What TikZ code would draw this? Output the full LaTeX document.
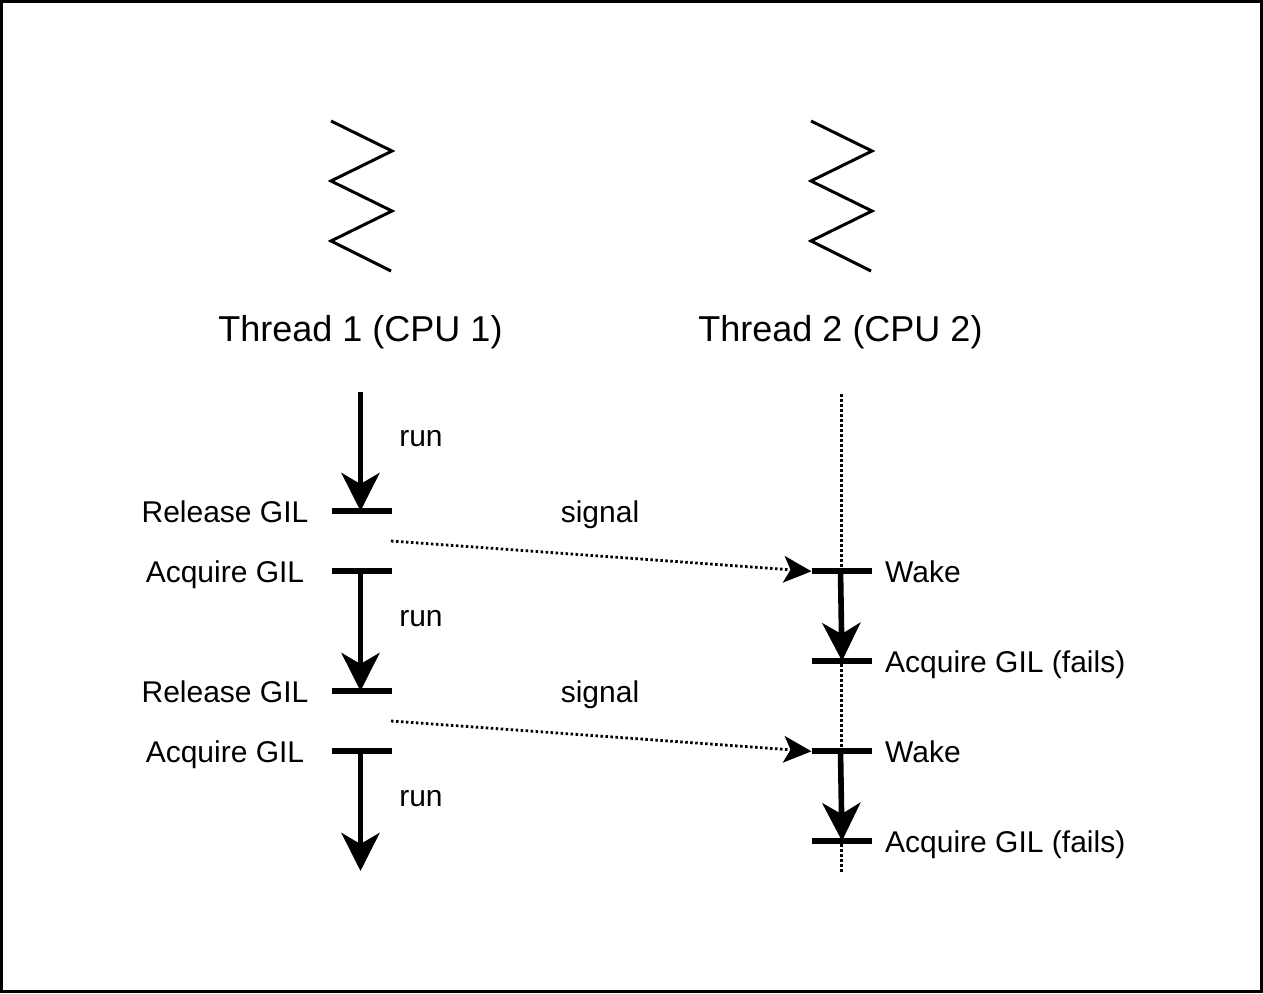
\documentclass[tikz,border=0pt]{standalone}
\usepackage{fontspec}
\setmainfont{Liberation Sans}
\usetikzlibrary{arrows.meta}
\tikzset{
  lab/.style={inner sep=0pt,anchor=base,font=\fontsize{30}{36}\selectfont},
  labw/.style={inner sep=0pt,anchor=base west,font=\fontsize{30}{36}\selectfont},
  head/.style={inner sep=0pt,anchor=base,font=\fontsize{36}{42}\selectfont},
  runarrow/.style={line width=5.6pt,-{Stealth[length=38pt,width=38pt,inset=11pt]}},
  bar/.style={line width=6pt},
  signalarrow/.style={line width=2.8pt,dash pattern=on 2.5pt off 2.5pt,-{Stealth[length=28pt,width=27pt,inset=7pt,line width=0pt]}},
  zig/.style={line width=3pt,line join=miter},
  vline/.style={line width=2.6pt,dash pattern=on 2.5pt off 2.5pt}
}
\begin{document}
\begin{tikzpicture}[x=1pt,y=-1pt]
\useasboundingbox (0,0) rectangle (1263,993);
\draw[line width=3pt] (1.5,1.5) rectangle (1261.5,991.5);
% zigzags
\draw[zig] (331,121)--(392,151)--(331,181)--(392,211)--(331,241)--(391,271);
\draw[zig] (811,121)--(872,151)--(811,181)--(872,211)--(811,241)--(871,271);
\node[head] (t1) at (360.5,341) {Thread 1 (CPU 1)};
\node[head] (t2) at (840.5,341) {Thread 2 (CPU 2)};
% coordinates
\coordinate (a0) at (360.5,392);
\coordinate (r1L) at (331.5,511.3); \coordinate (r1R) at (391.5,511.3); \coordinate (r1M) at (360.5,511);
\coordinate (a1L) at (331.5,571.3); \coordinate (a1R) at (391.5,571.3); \coordinate (a1M) at (360.5,571);
\coordinate (r2L) at (331.5,691.3); \coordinate (r2R) at (391.5,691.3); \coordinate (r2M) at (360.5,691);
\coordinate (a2L) at (331.5,751.3); \coordinate (a2R) at (391.5,751.3); \coordinate (a2M) at (360.5,751);
\coordinate (e1) at (360.5,871);
\coordinate (s1) at (391,541); \coordinate (s2) at (391,721);
\coordinate (v0) at (841.5,394); \coordinate (v1) at (841.5,872);
\coordinate (w1L) at (811.5,571.3); \coordinate (w1R) at (871.5,571.3); \coordinate (w1M) at (840.5,571);
\coordinate (f1L) at (811.5,661.3); \coordinate (f1R) at (871.5,661.3); \coordinate (f1M) at (842,661);
\coordinate (w2L) at (811.5,751.3); \coordinate (w2R) at (871.5,751.3); \coordinate (w2M) at (840.5,751);
\coordinate (f2L) at (811.5,841.3); \coordinate (f2R) at (871.5,841.3); \coordinate (f2M) at (842,841);
% thread 2 lifeline
\draw[vline] (v0)--(v1);
% bars
\foreach \b in {r1,a1,r2,a2,w1,f1,w2,f2} \draw[bar] (\b L)--(\b R);
% run arrows
\draw[runarrow] (a0)--(r1M);
\draw[runarrow] (a1M)--(r2M);
\draw[runarrow] (a2M)--(e1);
\draw[runarrow] (w1M)--(f1M);
\draw[runarrow] (w2M)--(f2M);
% signals
\draw[signalarrow] (s1)--(w1L);
\draw[signalarrow] (s2)--(w2L);
% labels
\node[lab] (l1) at (421,446) {run};
\node[lab] (l2) at (421,626) {run};
\node[lab] (l3) at (421,806) {run};
\node[lab] (l4) at (225,522) {Release GIL};
\node[lab] (l5) at (225,582) {Acquire GIL};
\node[lab] (l6) at (225,702) {Release GIL};
\node[lab] (l7) at (225,762) {Acquire GIL};
\node[lab] (l8) at (600,522) {signal};
\node[lab] (l9) at (600,702) {signal};
\node[labw] (l10) at (885,582) {Wake};
\node[labw] (l11) at (885,672) {Acquire GIL (fails)};
\node[labw] (l12) at (885,762) {Wake};
\node[labw] (l13) at (885,852) {Acquire GIL (fails)};
\end{tikzpicture}
\end{document}
